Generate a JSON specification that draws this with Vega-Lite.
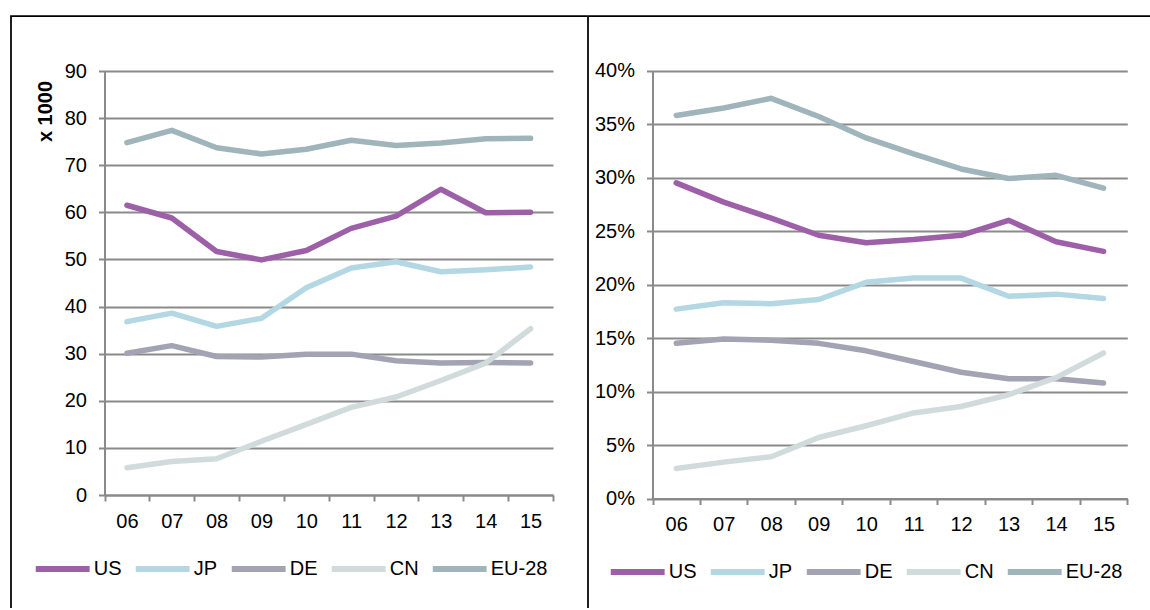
{
  "$schema": "https://vega.github.io/schema/vega-lite/v6.json",
  "padding": {"left": 10, "top": 15, "right": 0, "bottom": 0},
  "background": "white",
  "spacing": -2,
  "datasets": {
    "rows": [
      {"year": "06", "country": "US", "count": 61.5, "share": 0.295},
      {"year": "07", "country": "US", "count": 58.8, "share": 0.277},
      {"year": "08", "country": "US", "count": 51.7, "share": 0.262},
      {"year": "09", "country": "US", "count": 49.9, "share": 0.246},
      {"year": "10", "country": "US", "count": 51.9, "share": 0.239},
      {"year": "11", "country": "US", "count": 56.6, "share": 0.242},
      {"year": "12", "country": "US", "count": 59.2, "share": 0.246},
      {"year": "13", "country": "US", "count": 64.9, "share": 0.260},
      {"year": "14", "country": "US", "count": 59.9, "share": 0.240},
      {"year": "15", "country": "US", "count": 60.0, "share": 0.231},
      {"year": "06", "country": "JP", "count": 36.8, "share": 0.177},
      {"year": "07", "country": "JP", "count": 38.6, "share": 0.183},
      {"year": "08", "country": "JP", "count": 35.8, "share": 0.182},
      {"year": "09", "country": "JP", "count": 37.5, "share": 0.186},
      {"year": "10", "country": "JP", "count": 44.0, "share": 0.202},
      {"year": "11", "country": "JP", "count": 48.2, "share": 0.206},
      {"year": "12", "country": "JP", "count": 49.5, "share": 0.206},
      {"year": "13", "country": "JP", "count": 47.4, "share": 0.189},
      {"year": "14", "country": "JP", "count": 47.8, "share": 0.191},
      {"year": "15", "country": "JP", "count": 48.4, "share": 0.187},
      {"year": "06", "country": "DE", "count": 30.1, "share": 0.145},
      {"year": "07", "country": "DE", "count": 31.7, "share": 0.149},
      {"year": "08", "country": "DE", "count": 29.4, "share": 0.148},
      {"year": "09", "country": "DE", "count": 29.3, "share": 0.145},
      {"year": "10", "country": "DE", "count": 29.9, "share": 0.138},
      {"year": "11", "country": "DE", "count": 29.9, "share": 0.128},
      {"year": "12", "country": "DE", "count": 28.5, "share": 0.118},
      {"year": "13", "country": "DE", "count": 28.0, "share": 0.112},
      {"year": "14", "country": "DE", "count": 28.1, "share": 0.112},
      {"year": "15", "country": "DE", "count": 28.0, "share": 0.108},
      {"year": "06", "country": "CN", "count": 5.8, "share": 0.028},
      {"year": "07", "country": "CN", "count": 7.1, "share": 0.034},
      {"year": "08", "country": "CN", "count": 7.7, "share": 0.039},
      {"year": "09", "country": "CN", "count": 11.4, "share": 0.057},
      {"year": "10", "country": "CN", "count": 15.0, "share": 0.068},
      {"year": "11", "country": "CN", "count": 18.6, "share": 0.080},
      {"year": "12", "country": "CN", "count": 20.8, "share": 0.086},
      {"year": "13", "country": "CN", "count": 24.3, "share": 0.097},
      {"year": "14", "country": "CN", "count": 28.0, "share": 0.113},
      {"year": "15", "country": "CN", "count": 35.3, "share": 0.136},
      {"year": "06", "country": "EU-28", "count": 74.8, "share": 0.358},
      {"year": "07", "country": "EU-28", "count": 77.4, "share": 0.365},
      {"year": "08", "country": "EU-28", "count": 73.7, "share": 0.374},
      {"year": "09", "country": "EU-28", "count": 72.4, "share": 0.357},
      {"year": "10", "country": "EU-28", "count": 73.4, "share": 0.337},
      {"year": "11", "country": "EU-28", "count": 75.3, "share": 0.322},
      {"year": "12", "country": "EU-28", "count": 74.2, "share": 0.308},
      {"year": "13", "country": "EU-28", "count": 74.7, "share": 0.299},
      {"year": "14", "country": "EU-28", "count": 75.6, "share": 0.302},
      {"year": "15", "country": "EU-28", "count": 75.7, "share": 0.290}
    ]
  },
  "resolve": {
    "scale": {"x": "independent", "y": "independent", "color": "independent"},
    "legend": {"color": "independent"}
  },
  "hconcat": [
    {
      "width": 576,
      "height": 592,
      "view": {"stroke": "#000", "strokeWidth": 1.75, "strokeDash": [576, 1168, 592]},
      "data": {"name": "rows"},
      "mark": {"type": "line", "strokeWidth": 5.5, "strokeCap": "round", "strokeJoin": "round"},
      "encoding": {
        "x": {
          "field": "year", "type": "ordinal", "bandPosition": 0.5,
          "scale": {"type": "band", "range": [93.5, 542], "paddingInner": 0, "paddingOuter": 0},
          "axis": {"orient": "bottom", "offset": -113, "title": null}
        },
        "y": {
          "field": "count", "type": "quantitative",
          "scale": {"domain": [0, 90], "range": [479, 55], "nice": false, "zero": true},
          "axis": {
            "orient": "left", "offset": -93.5,
            "values": [0, 10, 20, 30, 40, 50, 60, 70, 80, 90],
            "grid": true,
            "title": "x 1000",
            "titleFontWeight": "bold", "titleFontSize": 20, "titleAngle": 270,
            "titleX": -59.5, "titleY": 95, "titleAlign": "center", "titleBaseline": "middle",
            "titleColor": "#000"
          }
        },
        "color": {
          "field": "country", "type": "nominal",
          "scale": {"domain": ["US", "JP", "DE", "CN", "EU-28"], "range": ["#9d5fa7", "#b3d8e3", "#a3a3b4", "#d2dbdc", "#9fb5bb"]},
          "legend": {"orient": "none", "legendX": 21.7, "legendY": 523, "direction": "horizontal", "title": null}
        }
      }
    },
    {
      "width": 563,
      "height": 592,
      "view": {"stroke": "#000", "strokeWidth": 1.75, "strokeDash": [563, 1155, 592]},
      "data": {"name": "rows"},
      "mark": {"type": "line", "strokeWidth": 5.5, "strokeCap": "round", "strokeJoin": "round"},
      "encoding": {
        "x": {
          "field": "year", "type": "ordinal", "bandPosition": 0.5,
          "scale": {"type": "band", "range": [64.5, 539.3], "paddingInner": 0, "paddingOuter": 0},
          "axis": {"orient": "bottom", "offset": -109.5, "title": null}
        },
        "y": {
          "field": "share", "type": "quantitative",
          "scale": {"domain": [0, 0.4], "range": [482.5, 54.5], "nice": false, "zero": true},
          "axis": {
            "orient": "left", "offset": -64.5,
            "values": [0, 0.05, 0.1, 0.15, 0.2, 0.25, 0.3, 0.35, 0.4],
            "format": ".0%",
            "grid": true,
            "title": null
          }
        },
        "color": {
          "field": "country", "type": "nominal",
          "scale": {"domain": ["US", "JP", "DE", "CN", "EU-28"], "range": ["#9d5fa7", "#b3d8e3", "#a3a3b4", "#d2dbdc", "#9fb5bb"]},
          "legend": {"orient": "none", "legendX": 19.7, "legendY": 526, "direction": "horizontal", "title": null}
        }
      }
    }
  ],
  "config": {
    "font": "Liberation Sans",
    "axis": {
      "labelFont": "Liberation Sans",
      "labelFontSize": 20,
      "labelColor": "#000",
      "domainColor": "#8a8a8a",
      "domainWidth": 2,
      "tickColor": "#8a8a8a",
      "tickWidth": 2,
      "tickSize": 6,
      "gridColor": "#8a8a8a",
      "gridWidth": 2,
      "labelPadding": 12
    },
    "axisX": {"grid": false, "tickBand": "extent", "labelAngle": 0, "labelPadding": 10},
    "legend": {
      "labelFont": "Liberation Sans",
      "labelFontSize": 20,
      "labelColor": "#000",
      "symbolType": "stroke",
      "symbolSize": 2900,
      "symbolStrokeWidth": 6,
      "labelOffset": 1,
      "columnPadding": 2
    }
  }
}
